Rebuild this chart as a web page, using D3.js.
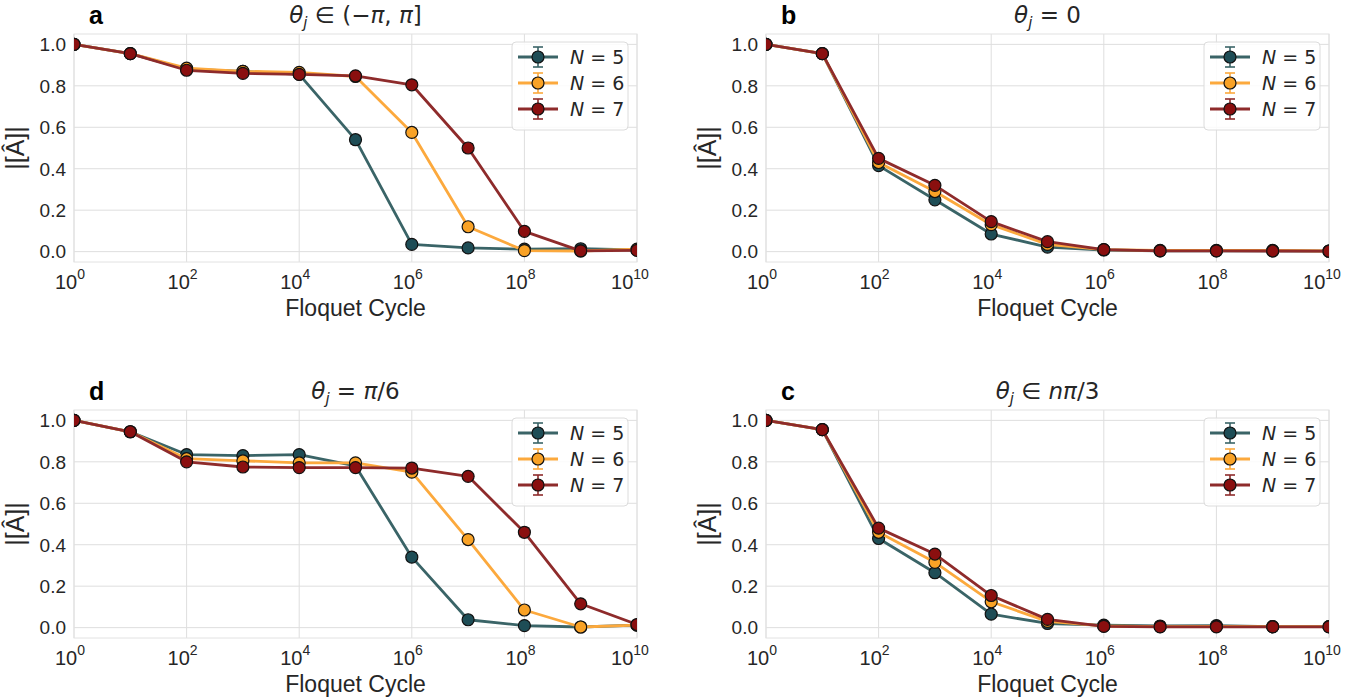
<!DOCTYPE html>
<html>
<head>
<meta charset="utf-8">
<script src="https://cdn.jsdelivr.net/npm/d3@7"></script>
<style>
  body { margin: 0; background: #fff; }
  svg { display: block; }
</style>
</head>
<body>
<svg id="chart" width="1372" height="698"></svg>
<script>
// ---------------- DATA ----------------
const cycles = [1e0, 1e1, 1e2, 1e3, 1e4, 1e5, 1e6, 1e7, 1e8, 1e9, 1e10];
const seriesNames = ["N = 5", "N = 6", "N = 7"];
const xTickValues = [1e0, 1e2, 1e4, 1e6, 1e8, 1e10];
const xTickExponents = ["0", "2", "4", "6", "8", "10"];
const yTickValues = [0.0, 0.2, 0.4, 0.6, 0.8, 1.0];
const yTickLabels = ["0.0", "0.2", "0.4", "0.6", "0.8", "1.0"];

// panel a: theta_j in (-pi, pi]
const aN5 = [1.0, 0.955, 0.880, 0.870, 0.855, 0.540, 0.035, 0.018, 0.012, 0.014, 0.008];
const aN6 = [1.0, 0.955, 0.885, 0.870, 0.865, 0.845, 0.575, 0.120, 0.005, 0.003, 0.012];
const aN7 = [1.0, 0.955, 0.875, 0.860, 0.855, 0.848, 0.805, 0.500, 0.098, 0.004, 0.006];
const aE5 = [0.003, 0.004, 0.006, 0.006, 0.008, 0.020, 0.010, 0.005, 0.004, 0.004, 0.003];
const aE6 = [0.003, 0.004, 0.006, 0.006, 0.008, 0.010, 0.018, 0.015, 0.004, 0.003, 0.003];
const aE7 = [0.003, 0.004, 0.006, 0.006, 0.006, 0.008, 0.012, 0.020, 0.015, 0.003, 0.003];

// panel b: theta_j = 0
const bN5 = [1.0, 0.955, 0.415, 0.250, 0.085, 0.022, 0.008, 0.004, 0.004, 0.004, 0.002];
const bN6 = [1.0, 0.955, 0.430, 0.290, 0.130, 0.035, 0.010, 0.006, 0.006, 0.006, 0.003];
const bN7 = [1.0, 0.955, 0.450, 0.320, 0.145, 0.048, 0.010, 0.004, 0.004, 0.003, 0.002];
const bE5 = [0.002, 0.004, 0.008, 0.010, 0.008, 0.005, 0.003, 0.002, 0.002, 0.002, 0.002];
const bE6 = [0.002, 0.004, 0.008, 0.010, 0.008, 0.005, 0.003, 0.002, 0.002, 0.002, 0.002];
const bE7 = [0.002, 0.004, 0.008, 0.010, 0.008, 0.005, 0.003, 0.002, 0.002, 0.002, 0.002];

// panel d: theta_j = pi/6
const dN5 = [1.0, 0.945, 0.835, 0.830, 0.835, 0.780, 0.340, 0.038, 0.010, 0.003, 0.012];
const dN6 = [1.0, 0.945, 0.815, 0.805, 0.795, 0.795, 0.750, 0.425, 0.085, 0.003, 0.012];
const dN7 = [1.0, 0.945, 0.800, 0.775, 0.772, 0.772, 0.770, 0.730, 0.460, 0.115, 0.015];
const dE5 = [0.003, 0.005, 0.006, 0.006, 0.006, 0.008, 0.020, 0.010, 0.004, 0.003, 0.003];
const dE6 = [0.003, 0.005, 0.006, 0.006, 0.006, 0.008, 0.010, 0.020, 0.010, 0.003, 0.003];
const dE7 = [0.003, 0.005, 0.006, 0.006, 0.006, 0.006, 0.010, 0.012, 0.020, 0.010, 0.004];

// panel c: theta_j in n pi/3
const cN5 = [1.0, 0.955, 0.430, 0.265, 0.065, 0.020, 0.012, 0.008, 0.010, 0.005, 0.005];
const cN6 = [1.0, 0.955, 0.460, 0.315, 0.125, 0.030, 0.008, 0.005, 0.006, 0.005, 0.005];
const cN7 = [1.0, 0.955, 0.480, 0.355, 0.155, 0.040, 0.006, 0.004, 0.004, 0.004, 0.004];
const cE5 = [0.002, 0.004, 0.008, 0.010, 0.008, 0.005, 0.003, 0.002, 0.002, 0.002, 0.002];
const cE6 = [0.002, 0.004, 0.008, 0.010, 0.008, 0.005, 0.003, 0.002, 0.002, 0.002, 0.002];
const cE7 = [0.002, 0.004, 0.008, 0.010, 0.008, 0.005, 0.003, 0.002, 0.002, 0.002, 0.002];

// ---------------- STYLE ----------------
const lineColors = ["#3a6467", "#fca93d", "#8e2b2b"];
const markerColors = ["#1e4d56", "#f9a226", "#8a0f0f"];

const panels = [
  { letter: "a", title: [["θ","i"],["j","sub"],[" ∈ (−","n"],["π","i"],[", ","n"],["π","i"],["]","n"]],
    vals: [aN5, aN6, aN7], errs: [aE5, aE6, aE7], left: 74, top: 34 },
  { letter: "b", title: [["θ","i"],["j","sub"],[" = 0","n"]],
    vals: [bN5, bN6, bN7], errs: [bE5, bE6, bE7], left: 766, top: 34 },
  { letter: "d", title: [["θ","i"],["j","sub"],[" = ","n"],["π","i"],["/6","n"]],
    vals: [dN5, dN6, dN7], errs: [dE5, dE6, dE7], left: 74, top: 410 },
  { letter: "c", title: [["θ","i"],["j","sub"],[" ∈ ","n"],["nπ","i"],["/3","n"]],
    vals: [cN5, cN6, cN7], errs: [cE5, cE6, cE7], left: 766, top: 410 }
];

const W = 563, H = 228;
const sansFont = "'Liberation Sans', Arial, sans-serif";
const mathFont = "'DejaVu Sans', sans-serif";

const svg = d3.select("#chart");

panels.forEach((p, pi) => {
  const g = svg.append("g").attr("transform", `translate(${p.left},${p.top})`);
  const x = d3.scaleLog().domain([1, 1e10]).range([0, W]);
  const y = d3.scaleLinear().domain([-0.05, 1.05]).range([H, 0]);

  // grid
  g.append("g").selectAll("line").data(xTickValues).join("line")
    .attr("x1", d => x(d)).attr("x2", d => x(d)).attr("y1", 0).attr("y2", H)
    .attr("stroke", "#dedede").attr("stroke-width", 1);
  g.append("g").selectAll("line").data(yTickValues).join("line")
    .attr("x1", 0).attr("x2", W).attr("y1", d => y(d)).attr("y2", d => y(d))
    .attr("stroke", "#dedede").attr("stroke-width", 1);

  // border
  g.append("rect").attr("x", 0).attr("y", 0).attr("width", W).attr("height", H)
    .attr("fill", "none").attr("stroke", "#e2e2e2").attr("stroke-width", 1);

  // clip
  const clipId = "clip" + pi;
  g.append("clipPath").attr("id", clipId).append("rect")
    .attr("x", 0).attr("y", 0).attr("width", W).attr("height", H);
  const plot = g.append("g").attr("clip-path", `url(#${clipId})`);

  const line = d3.line().x((d, i) => x(cycles[i])).y(d => y(d));

  p.vals.forEach((vals, si) => {
    const sg = plot.append("g");
    sg.append("path").datum(vals).attr("d", line)
      .attr("fill", "none").attr("stroke", lineColors[si]).attr("stroke-width", 2.8)
      .attr("stroke-linejoin", "round");
    const errs = p.errs[si];
    sg.selectAll("line.eb").data(vals).join("line").attr("class", "eb")
      .attr("x1", (d, i) => x(cycles[i])).attr("x2", (d, i) => x(cycles[i]))
      .attr("y1", (d, i) => y(d - errs[i])).attr("y2", (d, i) => y(d + errs[i]))
      .attr("stroke", lineColors[si]).attr("stroke-width", 1.6);
    ["lo", "hi"].forEach(k => {
      sg.selectAll("line.cap" + k).data(vals).join("line").attr("class", "cap" + k)
        .attr("x1", (d, i) => x(cycles[i]) - 5).attr("x2", (d, i) => x(cycles[i]) + 5)
        .attr("y1", (d, i) => y(k === "lo" ? d - errs[i] : d + errs[i]))
        .attr("y2", (d, i) => y(k === "lo" ? d - errs[i] : d + errs[i]))
        .attr("stroke", lineColors[si]).attr("stroke-width", 1.6);
    });
    sg.selectAll("circle").data(vals).join("circle")
      .attr("cx", (d, i) => x(cycles[i])).attr("cy", d => y(d)).attr("r", 6)
      .attr("fill", markerColors[si]).attr("stroke", "#111").attr("stroke-width", 1.2);
  });

  // y ticks
  g.append("g").selectAll("text").data(yTickValues).join("text")
    .attr("x", -8).attr("y", d => y(d)).attr("dy", "0.36em")
    .attr("text-anchor", "end").attr("font-family", sansFont).attr("font-size", 19)
    .attr("fill", "#262626").text((d, i) => yTickLabels[i]);

  // x ticks
  const xt = g.append("g").selectAll("text").data(xTickValues).join("text")
    .attr("x", (d, i) => x(d) - (xTickExponents[i].length > 1 ? 7 : 4))
    .attr("y", H + 27)
    .attr("text-anchor", "middle").attr("font-family", sansFont).attr("font-size", 20)
    .attr("fill", "#262626");
  xt.append("tspan").text("10");
  xt.append("tspan").attr("dy", -10).attr("font-size", 14).text((d, i) => xTickExponents[i]);

  // x label
  g.append("text").attr("x", W / 2).attr("y", H + 54).attr("text-anchor", "middle")
    .attr("font-family", sansFont).attr("font-size", 23).attr("fill", "#262626")
    .text("Floquet Cycle");

  // y label
  g.append("text").attr("transform", `translate(-50,${H / 2}) rotate(-90)`)
    .attr("text-anchor", "middle").attr("font-family", sansFont).attr("font-size", 25)
    .attr("fill", "#262626").text("|[Â]|");

  // title
  const t = g.append("text").attr("x", W / 2).attr("y", -11).attr("text-anchor", "middle")
    .attr("font-family", mathFont).attr("font-size", 23).attr("fill", "#262626");
  p.title.forEach(([s, k], idx) => {
    const ts = t.append("tspan").text(s);
    if (k === "i") ts.attr("font-style", "italic");
    if (k === "sub") ts.attr("font-style", "italic").attr("font-size", 15).attr("dy", 5);
    if (idx > 0 && p.title[idx - 1][1] === "sub") ts.attr("dy", -5);
  });

  // panel letter
  g.append("text").attr("x", 15).attr("y", -10).attr("font-family", sansFont)
    .attr("font-weight", "bold").attr("font-size", 25).attr("fill", "#000").text(p.letter);

  // legend
  const lg = g.append("g").attr("transform", `translate(${W - 125},8)`);
  lg.append("rect").attr("x", 0).attr("y", 0).attr("width", 116).attr("height", 88)
    .attr("rx", 4).attr("fill", "rgba(255,255,255,0.85)").attr("stroke", "#dcdcdc");
  seriesNames.forEach((name, si) => {
    const cy = 15 + si * 26;
    const row = lg.append("g");
    row.append("line").attr("x1", 6).attr("x2", 46).attr("y1", cy).attr("y2", cy)
      .attr("stroke", lineColors[si]).attr("stroke-width", 2.8);
    row.append("line").attr("x1", 26).attr("x2", 26).attr("y1", cy - 10).attr("y2", cy + 10)
      .attr("stroke", lineColors[si]).attr("stroke-width", 1.6);
    [cy - 10, cy + 10].forEach(yy => row.append("line").attr("x1", 21).attr("x2", 31)
      .attr("y1", yy).attr("y2", yy).attr("stroke", lineColors[si]).attr("stroke-width", 1.6));
    row.append("circle").attr("cx", 26).attr("cy", cy).attr("r", 6)
      .attr("fill", markerColors[si]).attr("stroke", "#111").attr("stroke-width", 1.2);
    const parts = name.split(" = ");
    const tx = row.append("text").attr("x", 58).attr("y", cy).attr("dy", "0.36em")
      .attr("font-family", mathFont).attr("font-size", 19).attr("fill", "#262626");
    tx.append("tspan").attr("font-style", "italic").text(parts[0]);
    tx.append("tspan").text(" = " + parts[1]);
  });
});
</script>
</body>
</html>
